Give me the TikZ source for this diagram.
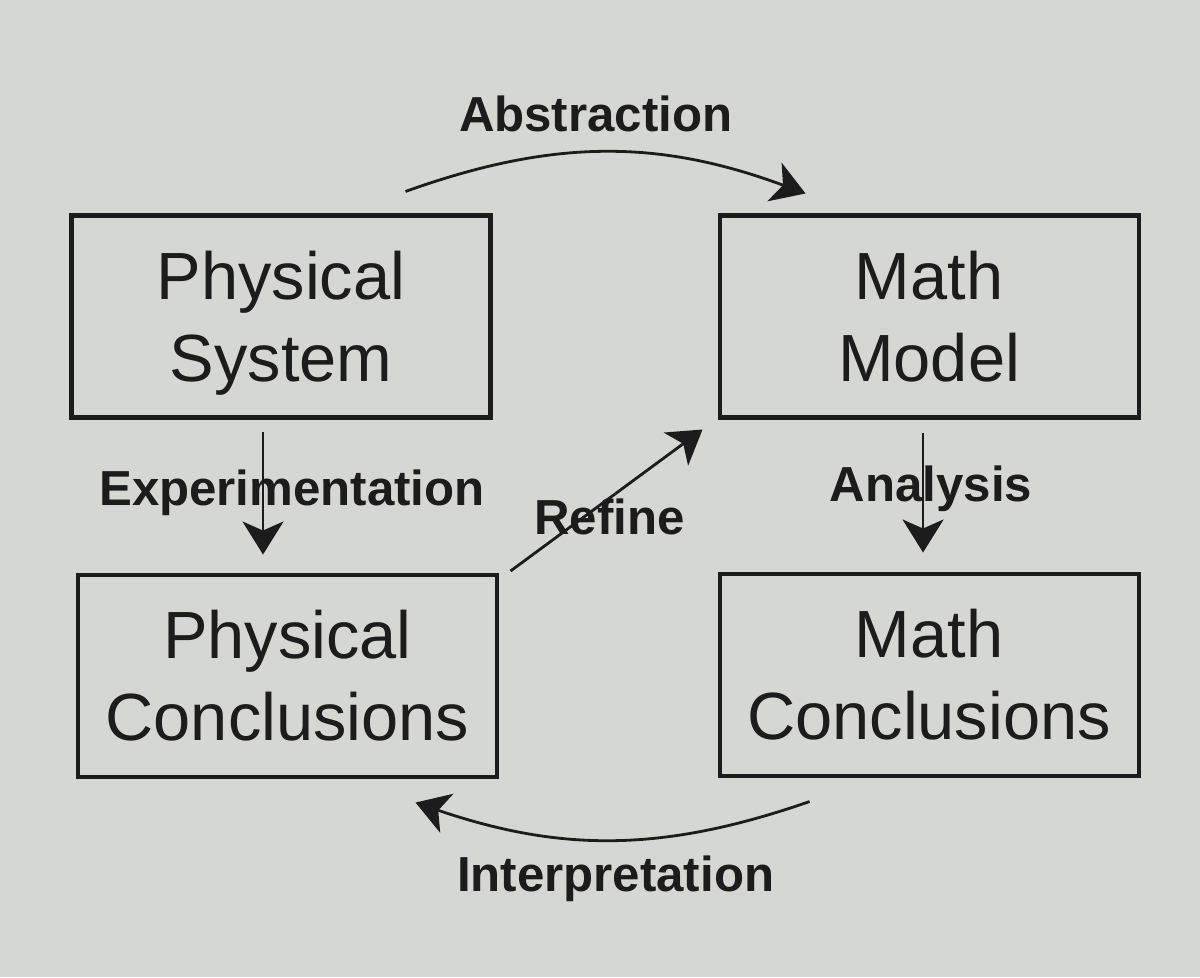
\documentclass[tikz,border=0pt]{standalone}
\usepackage{xcolor}
\definecolor{PaperGray}{HTML}{D5D7D2}
\definecolor{InkBlack}{HTML}{1C1C1C}
\usepackage{fontspec}
\setmainfont{Liberation Sans}
\usepackage{tikz}
\usetikzlibrary{positioning,arrows.meta}
\newcommand{\twolines}[2]{\rule{0pt}{12.4mm}#1\\#2\vphantom{y}}

\begin{document}
\begin{tikzpicture}[
    box/.style={draw=InkBlack,line width=2.3pt,text=InkBlack,align=center,inner sep=0pt,
      minimum width=83.8mm,minimum height=40.4mm,font=\fontsize{38}{46.5}\selectfont},
    lbl/.style={text=InkBlack,inner sep=0pt,font=\fontsize{28}{34}\selectfont\bfseries},
    flow/.style={-{Stealth[length=6.6mm,width=8.2mm,inset=1.8mm]},line width=1.6pt,InkBlack}]
    \fill[PaperGray] (0,0) rectangle (24,19.54);
    \useasboundingbox (0,0) rectangle (24,19.54);
    \node[box] (phys) at (5.62,13.21) {\twolines{Physical}{System}};
    \node[box,right=45mm of phys] (model) {\twolines{Math}{Model}};
    \node[box,below=30.6mm of phys,xshift=1.3mm] (pconc) {\twolines{Physical}{Conclusions}};
    \node[box,below=30.4mm of model] (mconc) {\twolines{Math}{Conclusions}};
    \draw[flow] ([shift={(-1.74,0.44)}]phys.north east) to[bend left=20]
      node[lbl,midway,xshift=-2mm,yshift=7.6mm] {Abstraction} ([shift={(1.76,0.4)}]model.north west);
    \draw[flow,shorten <=2.4mm,shorten >=3.6mm] ([xshift=-3.6mm]phys.south) -- ([xshift=-3.6mm]phys.south |- pconc.north)
      node[lbl,midway,xshift=5.8mm,yshift=0.6mm] {Experimentation};
    \draw[flow,shorten <=2.6mm,shorten >=3.8mm] ([xshift=-1.2mm]model.south) -- ([xshift=-1.2mm]model.south |- mconc.north)
      node[lbl,midway,xshift=1.6mm,yshift=1.4mm] {Analysis};
    \draw[flow] ([shift={(0.23,0.03)}]pconc.north east) -- ([shift={(-0.3,-0.2)}]model.south west)
      node[lbl,midway,xshift=0.6mm,yshift=-3.3mm] {Refine};
    \draw[flow] ([shift={(1.84,-0.48)}]mconc.south west) to[bend left=19]
      node[lbl,midway,xshift=0.6mm,yshift=-7.8mm] {Interpretation} ([shift={(-1.67,-0.48)}]pconc.south east);
  \end{tikzpicture}
\end{document}
